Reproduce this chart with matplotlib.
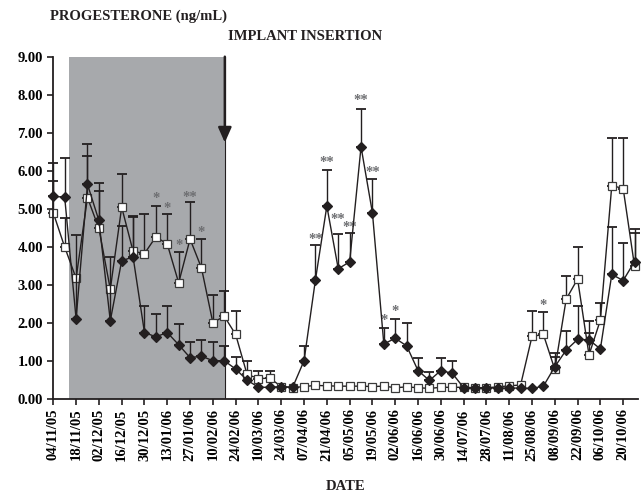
import matplotlib
matplotlib.use("Agg")
import matplotlib.pyplot as plt
import numpy as np

plt.rcParams["font.family"] = ["Liberation Serif", "DejaVu Serif"]
plt.rcParams["font.weight"] = "bold"

nan = np.nan

# weekly sampling, tick label every second week
date_labels = [
    "04/11/05", "18/11/05", "02/12/05", "16/12/05", "30/12/05", "13/01/06",
    "27/01/06", "10/02/06", "24/02/06", "10/03/06", "24/03/06", "07/04/06",
    "21/04/06", "05/05/06", "19/05/06", "02/06/06", "16/06/06", "30/06/06",
    "14/07/06", "28/07/06", "11/08/06", "25/08/06", "08/09/06", "22/09/06",
    "06/10/06", "20/10/06",
]

# filled diamonds: mean and top of error bar (nan = no bar shown)
diamond_mean = [
    5.33, 5.30, 2.10, 5.64, 4.69, 2.05, 3.63, 3.73, 1.74, 1.63,
    1.74, 1.42, 1.08, 1.12, 1.00, 1.00, 0.78, 0.49, 0.30, 0.30,
    0.32, 0.30, 1.00, 3.13, 5.07, 3.42, 3.60, 6.63, 4.89, 1.44,
    1.59, 1.39, 0.74, 0.48, 0.74, 0.67, 0.29, 0.28, 0.28, 0.28,
    0.28, 0.28, 0.27, 0.33, 0.84, 1.28, 1.56, 1.55, 1.31, 3.27,
    3.11, 3.61,
]
diamond_top = [
    5.73, 6.34, 4.30, 6.69, 5.68, 3.73, 4.54, 4.78, 2.43, 2.23,
    2.45, 1.97, 1.50, 1.55, 1.48, 1.39, 1.11, nan, nan, nan,
    nan, nan, 1.40, 4.04, 6.03, 4.34, 4.35, 7.63, 5.79, 1.87,
    2.10, 1.99, 1.08, 0.69, 1.06, 0.98, nan, nan, nan, nan,
    nan, nan, nan, nan, 1.21, 1.79, 2.45, 2.05, nan, 4.53,
    4.11, 4.37,
]

# open squares
square_mean = [
    4.89, 3.99, 3.17, 5.29, 4.48, 2.88, 5.04, 3.88, 3.82, 4.26,
    4.07, 3.05, 4.20, 3.44, 2.00, 2.17, 1.69, 0.64, 0.53, 0.54,
    0.32, 0.29, 0.32, 0.35, 0.34, 0.33, 0.33, 0.33, 0.32, 0.33,
    0.29, 0.31, 0.29, 0.27, 0.30, 0.30, 0.30, 0.29, 0.29, 0.31,
    0.34, 0.36, 1.64, 1.69, 0.77, 2.62, 3.15, 1.15, 2.07, 5.61,
    5.53, 3.48,
]
square_top = [
    6.21, 4.76, nan, 6.39, 5.46, nan, 5.92, 4.82, 4.85, 5.08,
    4.85, 3.87, 5.17, 4.20, 2.72, 2.84, 2.31, 0.98, 0.74, 0.74,
    nan, nan, nan, nan, nan, nan, nan, nan, nan, nan,
    nan, nan, nan, nan, nan, nan, nan, nan, nan, nan,
    nan, nan, 2.32, 2.27, 1.11, 3.23, 3.99, 1.74, 2.53, 6.86,
    6.86, 4.46,
]

# significance marks: (week index, centre height, text)
star_idx = [9, 10, 11, 12, 13, 23, 24, 25, 26, 27, 28, 29, 30, 43]
star_y = [5.42, 5.15, 4.19, 5.44, 4.51, 4.34, 6.36, 4.86, 4.64, 7.98, 6.09, 2.21, 2.43, 2.60]
star_txt = ["*", "*", "*", "**", "*", "**", "**", "**", "**", "**", "**", "*", "*", "*"]

shade_start = 1.4
implant_week = 15.05

W, H = 642, 495
fig = plt.figure(figsize=(W / 100, H / 100), dpi=100)
ax = fig.add_axes([53.3 / W, 1 - 398.7 / H, (638 - 53.3) / W, (398.7 - 56.7) / H])

x = np.arange(len(diamond_mean))
ink = "#231f20"

ax.axvspan(shade_start, implant_week, color="#a7a9ac", lw=0, zorder=0)
ax.axvline(implant_week, color=ink, lw=0.8, zorder=1)
ax.annotate("", xy=(implant_week, 6.74), xytext=(implant_week, 9.0),
            arrowprops=dict(arrowstyle="-|>,head_length=0.9,head_width=0.4",
                            lw=1.8, color=ink, shrinkA=0, shrinkB=0),
            fontsize=10, annotation_clip=False, zorder=5)


def draw(mean, top, marker, ms, face, edge, z):
    mean = np.array(mean)
    top = np.array(top)
    m = ~np.isnan(top)
    ax.errorbar(x[m], mean[m], yerr=[np.zeros(m.sum()), top[m] - mean[m]],
                fmt="none", ecolor=ink, elinewidth=1.0, capsize=3.5,
                capthick=1.3, zorder=z, clip_on=False)
    ax.plot(x, mean, color=ink, lw=1.0, marker=marker, ms=ms, mfc=face,
            mec=edge, mew=0.9, zorder=z + 0.5, clip_on=False)


draw(square_mean, square_top, "s", 5.2, "white", "#3a3a3a", 2)
draw(diamond_mean, diamond_top, "D", 4.6, ink, ink, 3)

for i, yv, t in zip(star_idx, star_y, star_txt):
    ax.annotate(t, (i, yv), xytext=(0, -6.5), textcoords="offset points",
                ha="center", va="baseline", color="#6d6e71", fontsize=10.5,
                fontweight="bold")

ax.set_xlim(0, 51.3)
ax.set_ylim(0, 9)
ax.set_yticks(np.arange(0, 10))
ax.set_yticklabels([f"{v:.2f}" for v in range(10)])
ax.set_xticks(np.arange(0, 2 * len(date_labels), 2))
ax.set_xticklabels(date_labels, rotation=90)
ax.tick_params(axis="both", labelsize=10.5, width=1.2, length=4, color=ink)
ax.tick_params(axis="x", pad=3)
for s in ("top", "right"):
    ax.spines[s].set_visible(False)
for s in ("left", "bottom"):
    ax.spines[s].set_linewidth(1.3)
    ax.spines[s].set_color(ink)

fig.text(50 / W, 1 - 16 / H, "PROGESTERONE (ng/mL)", fontsize=10.5,
         ha="left", va="center", color=ink)
fig.text(228 / W, 1 - 37 / H, "IMPLANT INSERTION", fontsize=10.5,
         ha="left", va="center", color=ink)
fig.text(346 / W, 1 - 487 / H, "DATE", fontsize=10.5, ha="center",
         va="center", color=ink)

fig.savefig("out.png", dpi=100)
